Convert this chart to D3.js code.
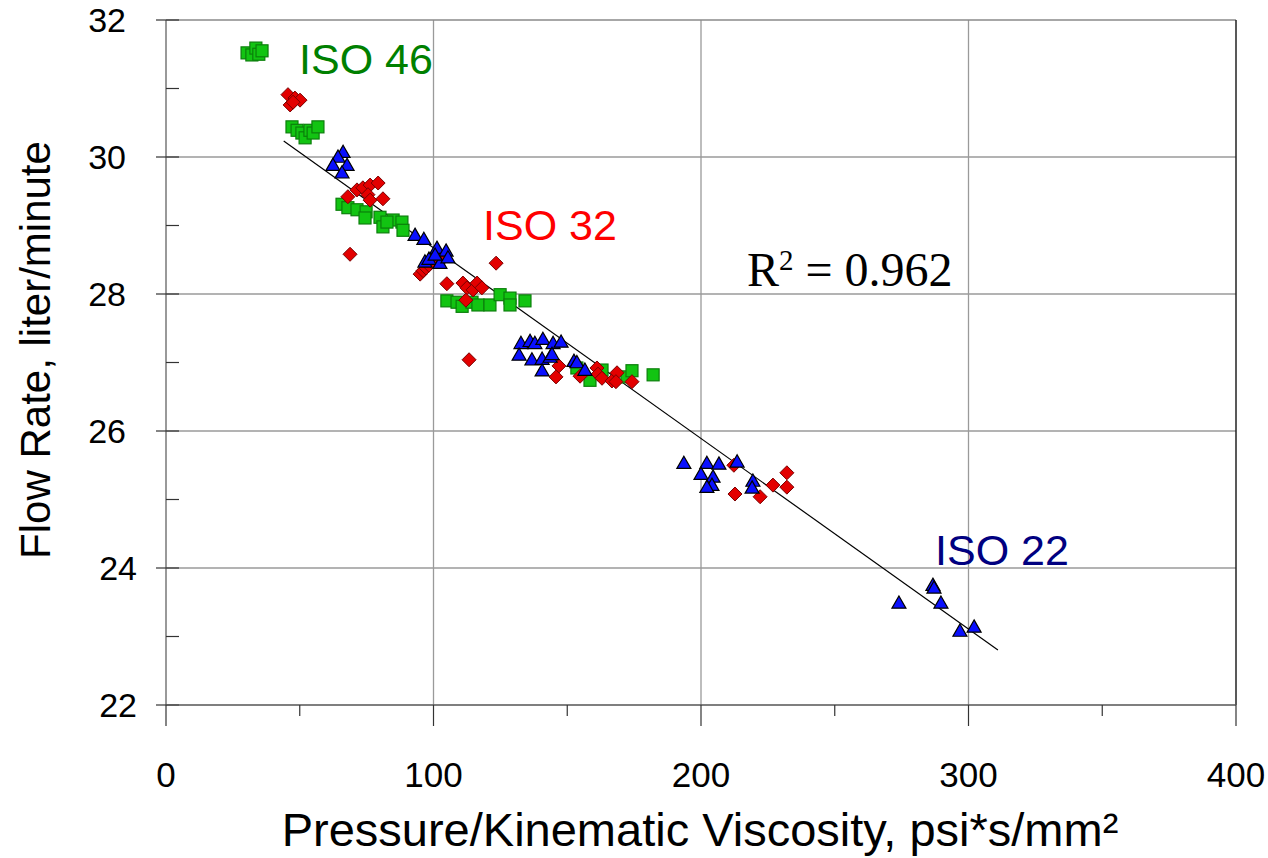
<!DOCTYPE html>
<html>
<head>
<meta charset="utf-8">
<script src="https://cdn.jsdelivr.net/npm/d3@7"></script>
<style>
  html, body { margin: 0; padding: 0; background: #ffffff; }
  svg { display: block; }
</style>
</head>
<body>
<svg id="chart" width="1268" height="858"></svg>
<script>
// Flow rate vs. pressure / kinematic viscosity, three oil grades.
const xTicks = [0, 100, 200, 300, 400];
const xMinorTicks = [50, 150, 250, 350];
const yTicks = [22, 24, 26, 28, 30, 32];
const yMinorTicks = [23, 25, 27, 29, 31];

// ISO 46 (green squares)
const iso46X = [30.3, 32.1, 33.6, 34.7, 35.9,
  47.1, 49.0, 50.8, 52.0, 53.8, 55.0, 56.8,
  65.8, 68.0, 71.4, 74.8, 74.4, 80.0, 81.1, 84.9, 88.2, 88.6, 82.6,
  105.0, 108.8, 110.7, 114.4, 116.6, 121.1, 124.9, 128.6, 128.6, 134.2,
  153.6, 158.5, 163.0, 172.3, 174.2, 182.1];
const iso46Y = [31.52, 31.49, 31.59, 31.50, 31.55,
  30.44, 30.39, 30.35, 30.28, 30.39, 30.35, 30.44,
  29.31, 29.26, 29.23, 29.20, 29.11, 29.12, 28.98, 29.08, 29.05, 28.93, 29.05,
  27.90, 27.88, 27.82, 27.88, 27.84, 27.84, 27.99, 27.94, 27.84, 27.90,
  26.92, 26.74, 26.89, 26.79, 26.88, 26.82];

// ISO 32 (red diamonds)
const iso32X = [45.6, 46.4, 48.2, 50.1, 47.5,
  68.0, 71.4, 73.6, 76.3, 79.3, 75.5, 76.3, 81.1, 68.8,
  95.0, 96.1, 97.2, 98.3, 99.4, 103.0, 123.4, 105.0,
  111.0, 112.5, 114.8, 116.3, 118.1, 112.1, 113.3,
  146.9, 145.8, 154.8, 161.1, 161.5, 163.0, 166.7, 168.6, 168.2, 174.2,
  212.3, 212.7, 222.1, 226.9, 232.1, 232.1];
const iso32Y = [30.91, 30.76, 30.86, 30.83, 30.80,
  29.42, 29.52, 29.55, 29.59, 29.62, 29.45, 29.37, 29.39, 28.58,
  28.29, 28.34, 28.38, 28.42, 28.47, 28.50, 28.45, 28.15,
  28.16, 28.09, 28.06, 28.16, 28.09, 27.91, 27.04,
  26.95, 26.79, 26.80, 26.92, 26.83, 26.77, 26.73, 26.85, 26.72, 26.72,
  25.50, 25.08, 25.04, 25.21, 25.39, 25.18];

// ISO 22 (blue triangles)
const iso22X = [66.2, 64.3, 62.4, 67.7, 65.8,
  93.1, 96.4, 101.3, 104.7, 96.8, 98.3, 102.4, 105.4, 100.6,
  132.7, 136.1, 137.9, 140.9, 144.7, 147.7, 132.0, 136.8, 140.6, 143.6, 144.3, 140.6, 152.5, 153.6, 156.6,
  193.6, 202.2, 206.7, 213.5, 200.0, 204.5, 204.1, 202.2, 219.4, 219.1,
  286.7, 287.1, 274.0, 289.7, 296.8, 302.1];
const iso22Y = [30.07, 30.00, 29.88, 29.88, 29.77,
  28.86, 28.80, 28.67, 28.63, 28.47, 28.51, 28.45, 28.53, 28.57,
  27.28, 27.31, 27.28, 27.34, 27.28, 27.30, 27.11, 27.04, 27.05, 27.08, 27.12, 26.88, 27.02, 27.00, 26.89,
  25.53, 25.53, 25.52, 25.55, 25.37, 25.33, 25.21, 25.18, 25.27, 25.17,
  23.75, 23.71, 23.49, 23.49, 23.08, 23.14];

// Linear fit over all grades
const fitSlope = -0.02783;
const fitIntercept = 31.457;
const fitRange = [44, 311];
const fitLabel = "0.962";

const svg = d3.select("#chart");
const plotL = 166, plotR = 1236, plotT = 20, plotB = 705;

const x = d3.scaleLinear().domain([0, 400]).range([plotL, plotR]);
const y = d3.scaleLinear().domain([22, 32]).range([plotB, plotT]);

const sans = "Arial, 'Liberation Sans', sans-serif";

// gridlines
const grid = svg.append("g");
grid.selectAll("line.h").data(yTicks.filter(v => v > 22 && v < 32)).join("line")
  .attr("class", "h")
  .attr("x1", plotL).attr("x2", plotR)
  .attr("y1", d => y(d)).attr("y2", d => y(d))
  .attr("stroke", "#9a9a9a").attr("stroke-width", 1.3);
grid.selectAll("line.v").data(xTicks.filter(v => v > 0 && v < 400)).join("line")
  .attr("class", "v")
  .attr("y1", plotT).attr("y2", plotB)
  .attr("x1", d => x(d)).attr("x2", d => x(d))
  .attr("stroke", "#9a9a9a").attr("stroke-width", 1.3);
// frame: top and right edges
svg.append("line").attr("x1", plotL).attr("x2", plotR).attr("y1", y(32)).attr("y2", y(32))
  .attr("stroke", "#8a8a8a").attr("stroke-width", 1.5);
svg.append("line").attr("x1", x(400)).attr("x2", x(400)).attr("y1", plotT).attr("y2", plotB)
  .attr("stroke", "#222").attr("stroke-width", 1.5);

// y axis
const yAxis = svg.append("g");
yAxis.append("line").attr("x1", plotL).attr("x2", plotL).attr("y1", plotT).attr("y2", plotB)
  .attr("stroke", "#777").attr("stroke-width", 1.5);
yAxis.selectAll("line.maj").data(yTicks).join("line")
  .attr("class", "maj")
  .attr("x1", plotL - 10).attr("x2", plotL + 13)
  .attr("y1", d => y(d)).attr("y2", d => y(d))
  .attr("stroke", "#333").attr("stroke-width", 1.2);
yAxis.selectAll("line.min").data(yMinorTicks).join("line")
  .attr("class", "min")
  .attr("x1", plotL).attr("x2", plotL + 13)
  .attr("y1", d => y(d)).attr("y2", d => y(d))
  .attr("stroke", "#333").attr("stroke-width", 1.2);
yAxis.selectAll("text").data(yTicks).join("text")
  .attr("x", plotL - 40).attr("y", d => y(d))
  .attr("dx", d => d <= 24 ? 11 : 0)
  .attr("dy", "0.36em")
  .attr("text-anchor", "end")
  .attr("font-family", sans)
  .attr("font-size", 34)
  .text(d => d);

// x axis
const xAxis = svg.append("g");
xAxis.append("line").attr("x1", plotL).attr("x2", plotR).attr("y1", plotB).attr("y2", plotB)
  .attr("stroke", "#555").attr("stroke-width", 1.5);
xAxis.selectAll("line.maj").data(xTicks).join("line")
  .attr("class", "maj")
  .attr("x1", d => x(d)).attr("x2", d => x(d))
  .attr("y1", plotB).attr("y2", plotB + 21)
  .attr("stroke", "#333").attr("stroke-width", 1.2);
xAxis.selectAll("line.min").data(xMinorTicks).join("line")
  .attr("class", "min")
  .attr("x1", d => x(d)).attr("x2", d => x(d))
  .attr("y1", plotB).attr("y2", plotB + 11)
  .attr("stroke", "#333").attr("stroke-width", 1.2);
xAxis.selectAll("text").data(xTicks).join("text")
  .attr("x", d => x(d)).attr("y", 787)
  .attr("text-anchor", "middle")
  .attr("font-family", sans)
  .attr("font-size", 35)
  .text(d => d);

// axis titles
svg.append("text")
  .attr("x", 700).attr("y", 846)
  .attr("text-anchor", "middle")
  .attr("font-family", sans)
  .attr("font-size", 47)
  .text("Pressure/Kinematic Viscosity, psi*s/mm²");
svg.append("text")
  .attr("transform", "translate(50,350) rotate(-90)")
  .attr("text-anchor", "middle")
  .attr("font-family", sans)
  .attr("font-size", 42)
  .text("Flow Rate, liter/minute");

// fit line
svg.append("line")
  .attr("x1", x(fitRange[0])).attr("y1", y(fitIntercept + fitSlope * fitRange[0]))
  .attr("x2", x(fitRange[1])).attr("y2", y(fitIntercept + fitSlope * fitRange[1]))
  .attr("stroke", "#000").attr("stroke-width", 1.2);

// markers
const pts = (xs, ys) => xs.map((v, i) => [v, ys[i]]);

const sq = 12;
svg.append("g").selectAll("rect").data(pts(iso46X, iso46Y)).join("rect")
  .attr("x", d => x(d[0]) - sq / 2).attr("y", d => y(d[1]) - sq / 2)
  .attr("width", sq).attr("height", sq)
  .attr("fill", "#12c412").attr("stroke", "#0b7f0b").attr("stroke-width", 1.2);

const dm = 7;
svg.append("g").selectAll("path").data(pts(iso32X, iso32Y)).join("path")
  .attr("d", d => {
    const cx = x(d[0]), cy = y(d[1]);
    return `M${cx},${cy - dm}L${cx + dm},${cy}L${cx},${cy + dm}L${cx - dm},${cy}Z`;
  })
  .attr("fill", "#e30000").attr("stroke", "#7a0000").attr("stroke-width", 1);

const tr = 7;
svg.append("g").selectAll("path").data(pts(iso22X, iso22Y)).join("path")
  .attr("d", d => {
    const cx = x(d[0]), cy = y(d[1]);
    return `M${cx},${cy - tr}L${cx + tr},${cy + tr * 0.75}L${cx - tr},${cy + tr * 0.75}Z`;
  })
  .attr("fill", "#0a10ff").attr("stroke", "#000").attr("stroke-width", 1.2);

// series labels
svg.append("text").attr("x", 299).attr("y", 74)
  .attr("font-family", sans).attr("font-size", 43).attr("fill", "#008000").text("ISO 46");
svg.append("text").attr("x", 483).attr("y", 240)
  .attr("font-family", sans).attr("font-size", 43).attr("fill", "#ff0000").text("ISO 32");
svg.append("text").attr("x", 935).attr("y", 565)
  .attr("font-family", sans).attr("font-size", 43).attr("fill", "#000080").text("ISO 22");

// R squared
const r2 = svg.append("text").attr("x", 747).attr("y", 286)
  .attr("font-family", "'Times New Roman', 'Liberation Serif', serif")
  .attr("font-size", 48).attr("fill", "#000");
r2.append("tspan").text("R");
r2.append("tspan").attr("font-size", 29).attr("dy", -16).text("2");
r2.append("tspan").attr("dy", 16).text(" = " + fitLabel);
</script>
</body>
</html>
